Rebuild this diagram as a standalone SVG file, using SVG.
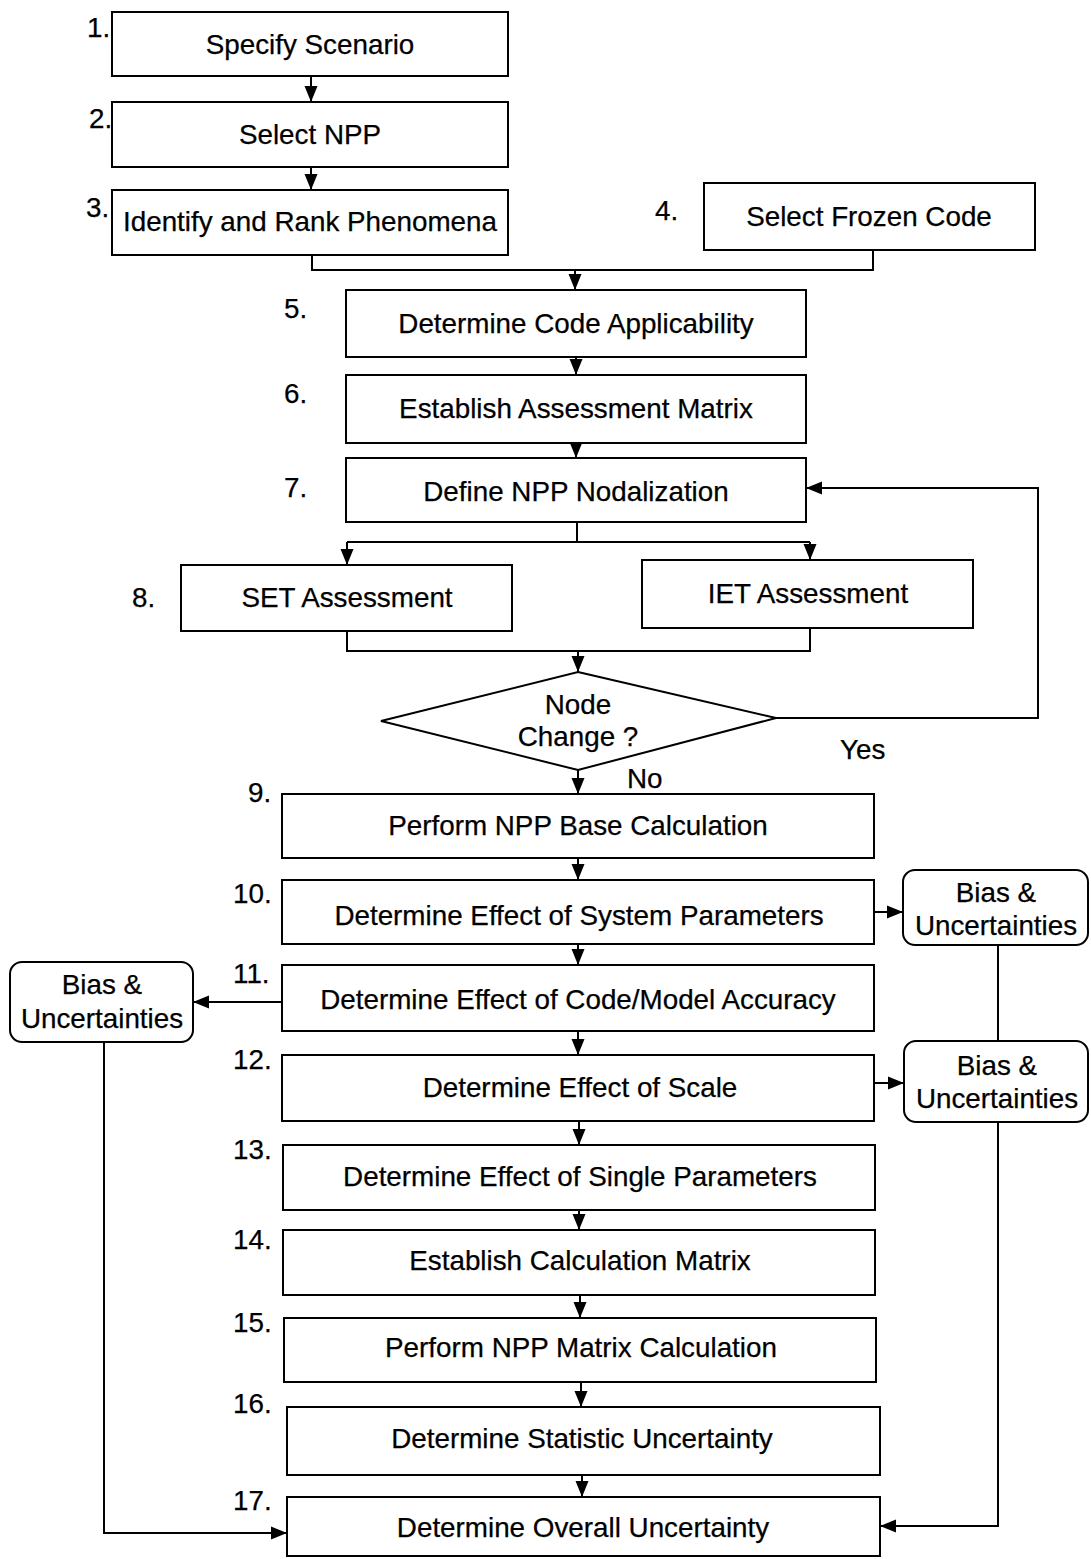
<svg xmlns="http://www.w3.org/2000/svg" width="1091" height="1559" viewBox="0 0 1091 1559">
  <style>
    text { font-family: "Liberation Sans", Arial, sans-serif; font-size: 27.8px; fill: #000; stroke: #000; stroke-width: 0.25; }
    .c { text-anchor: middle; }
    .box { fill: #fff; stroke: #000; stroke-width: 2; }
    .wire { fill: none; stroke: #000; stroke-width: 2; }
    .arr { marker-end: url(#head); }
  </style>
  <defs>
    <marker id="head" markerUnits="userSpaceOnUse" markerWidth="17" markerHeight="14" refX="16" refY="7" orient="auto">
      <path d="M0,0.5 L16,7 L0,13.5 Z" fill="#000"/>
    </marker>
  </defs>

  <rect width="1091" height="1559" fill="#fff"/>

  <!-- connectors -->
  <g id="connectors">
    <path class="wire arr" d="M311,76 V102"/>
    <path class="wire arr" d="M311,167 V190"/>
    <path class="wire" d="M312,255 V270 H873 V250"/>
    <path class="wire arr" d="M575,270 V290"/>
    <path class="wire arr" d="M576,357 V375"/>
    <path class="wire arr" d="M576,443 V458"/>
    <path class="wire" d="M577,522 V542"/>
    <path class="wire" d="M347,542 H810"/>
    <path class="wire arr" d="M347,542 V565"/>
    <path class="wire arr" d="M810,542 V560"/>
    <path class="wire" d="M347,631 V651 H810 V628"/>
    <path class="wire arr" d="M578,651 V672"/>
    <path class="wire arr" d="M776,718 H1038 V488 H806"/>
    <path class="wire arr" d="M578,770 V794"/>
    <path class="wire arr" d="M578,858 V880"/>
    <path class="wire arr" d="M578,944 V965"/>
    <path class="wire arr" d="M578,1031 V1055"/>
    <path class="wire arr" d="M579,1121 V1145"/>
    <path class="wire arr" d="M579,1210 V1230"/>
    <path class="wire arr" d="M580,1295 V1318"/>
    <path class="wire arr" d="M581,1382 V1407"/>
    <path class="wire arr" d="M582,1475 V1497"/>
    <path class="wire arr" d="M874,912 H903"/>
    <path class="wire arr" d="M282,1002 H193"/>
    <path class="wire arr" d="M874,1083 H904"/>
    <path class="wire" d="M998,945 V1041"/>
    <path class="wire arr" d="M998,1122 V1526 H880"/>
    <path class="wire arr" d="M104,1042 V1533 H287"/>
  </g>

  <!-- step nodes -->
  <g id="n1"><rect class="box" x="112" y="12" width="396" height="64"/><text x="87" y="37">1.</text><text class="c" x="310" y="54">Specify Scenario</text></g>
  <g id="n2"><rect class="box" x="112" y="102" width="396" height="65"/><text x="89" y="128">2.</text><text class="c" x="310" y="144">Select NPP</text></g>
  <g id="n3"><rect class="box" x="112" y="190" width="396" height="65"/><text x="86" y="217">3.</text><text class="c" x="310" y="231">Identify and Rank Phenomena</text></g>
  <g id="n4"><rect class="box" x="704" y="183" width="331" height="67"/><text x="655" y="220">4.</text><text class="c" x="869" y="226">Select Frozen Code</text></g>
  <g id="n5"><rect class="box" x="346" y="290" width="460" height="67"/><text x="284" y="318">5.</text><text class="c" x="576" y="333">Determine Code Applicability</text></g>
  <g id="n6"><rect class="box" x="346" y="375" width="460" height="68"/><text x="284" y="403">6.</text><text class="c" x="576" y="418">Establish Assessment Matrix</text></g>
  <g id="n7"><rect class="box" x="346" y="458" width="460" height="64"/><text x="284" y="497">7.</text><text class="c" x="576" y="501">Define NPP Nodalization</text></g>
  <g id="n8set"><rect class="box" x="181" y="565" width="331" height="66"/><text x="132" y="607">8.</text><text class="c" x="347" y="607">SET Assessment</text></g>
  <g id="n8iet"><rect class="box" x="642" y="560" width="331" height="68"/><text class="c" x="808" y="603">IET Assessment</text></g>
  <g id="decision">
    <polygon class="box" points="578,672 776,718 578,770 381,721"/>
    <text class="c" x="578" y="714">Node</text>
    <text class="c" x="578" y="746">Change ?</text>
    <text x="840" y="759">Yes</text>
    <text x="627" y="788">No</text>
  </g>
  <g id="n9"><rect class="box" x="282" y="794" width="592" height="64"/><text x="248" y="802">9.</text><text class="c" x="578" y="835">Perform NPP Base Calculation</text></g>
  <g id="n10"><rect class="box" x="282" y="880" width="592" height="64"/><text x="233" y="903">10.</text><text class="c" x="579" y="925">Determine Effect of System Parameters</text></g>
  <g id="n11"><rect class="box" x="282" y="965" width="592" height="66"/><text x="233" y="983">11.</text><text class="c" x="578" y="1009">Determine Effect of Code/Model Accuracy</text></g>
  <g id="n12"><rect class="box" x="282" y="1055" width="592" height="66"/><text x="233" y="1069">12.</text><text class="c" x="580" y="1097">Determine Effect of Scale</text></g>
  <g id="n13"><rect class="box" x="283" y="1145" width="592" height="65"/><text x="233" y="1159">13.</text><text class="c" x="580" y="1186">Determine Effect of Single Parameters</text></g>
  <g id="n14"><rect class="box" x="283" y="1230" width="592" height="65"/><text x="233" y="1249">14.</text><text class="c" x="580" y="1270">Establish Calculation Matrix</text></g>
  <g id="n15"><rect class="box" x="284" y="1318" width="592" height="64"/><text x="233" y="1332">15.</text><text class="c" x="581" y="1357">Perform NPP Matrix Calculation</text></g>
  <g id="n16"><rect class="box" x="287" y="1407" width="593" height="68"/><text x="233" y="1413">16.</text><text class="c" x="582" y="1448">Determine Statistic Uncertainty</text></g>
  <g id="n17"><rect class="box" x="287" y="1497" width="593" height="59"/><text x="233" y="1510">17.</text><text class="c" x="583" y="1537">Determine Overall Uncertainty</text></g>

  <!-- bias and uncertainty nodes -->
  <g id="bias10"><rect class="box" x="903" y="870" width="185" height="75" rx="12"/><text class="c" x="996" y="902">Bias &amp;</text><text class="c" x="996" y="935">Uncertainties</text></g>
  <g id="bias11"><rect class="box" x="10" y="962" width="183" height="80" rx="12"/><text class="c" x="102" y="994">Bias &amp;</text><text class="c" x="102" y="1028">Uncertainties</text></g>
  <g id="bias12"><rect class="box" x="904" y="1041" width="184" height="81" rx="12"/><text class="c" x="997" y="1075">Bias &amp;</text><text class="c" x="997" y="1108">Uncertainties</text></g>
</svg>
